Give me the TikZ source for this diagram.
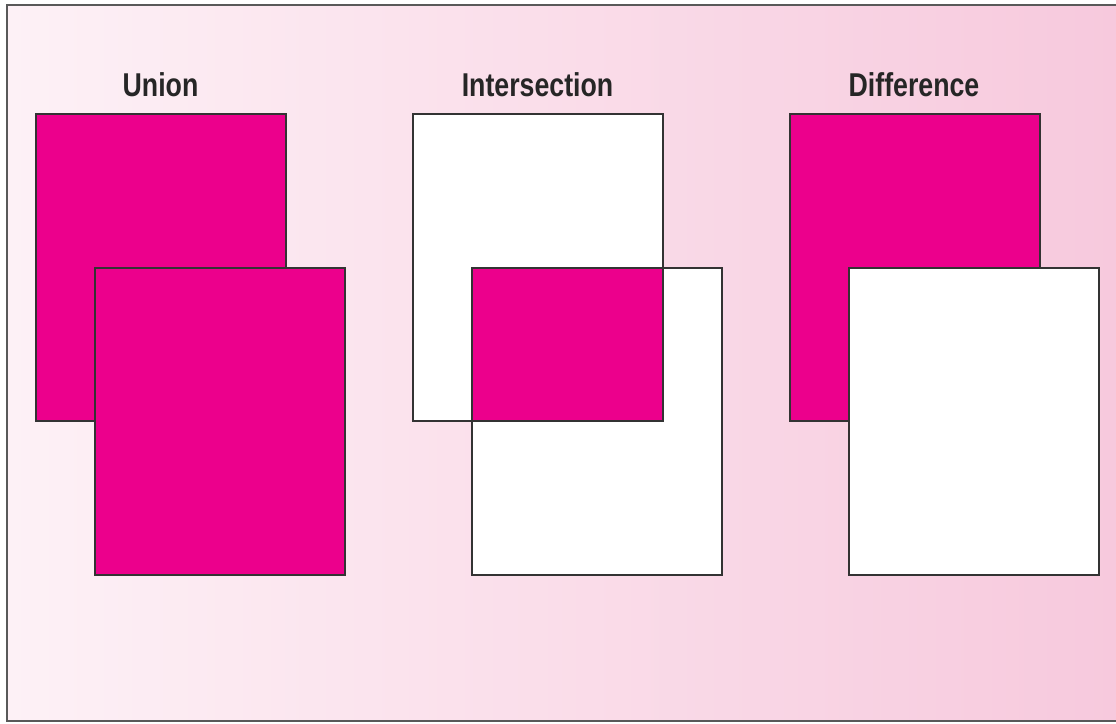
\documentclass[tikz,border=0pt]{standalone}
\usepackage{fontspec}
\newfontfamily\labelfont[FakeStretch=0.81]{Liberation Sans}
\usepackage{xcolor}
\usepackage{tikz}
\usetikzlibrary{positioning}

\definecolor{setmagenta}{HTML}{EC008C}
\definecolor{bgleft}{HTML}{FDF1F6}
\definecolor{bgright}{HTML}{F7C9DD}
\definecolor{edgegray}{HTML}{333333}

\begin{document}
\begin{tikzpicture}[x=1pt,y=-1pt,
    setbox/.style={draw=edgegray,line width=1.3pt},
    title/.style={font=\labelfont\bfseries\fontsize{33}{33}\selectfont,text=black!85,anchor=base}]
    \useasboundingbox (0,0) rectangle (1116,723);
    \shade[left color=bgleft,right color=bgright] (7,5) rectangle (1116,721);
    \draw[line width=2pt,black!65] (1116,5) -- (7,5) -- (7,721) -- (1116,721);
    % union
    \node[title] (union) at (160.5,96) {Union};
    \draw[setbox,fill=setmagenta] (36,114) rectangle (286,421);
    \draw[setbox,fill=setmagenta] (95,268) rectangle (345,575);
    % intersection
    \node[title] (inter) at (537.5,96) {Intersection};
    \draw[setbox,fill=white] (413,114) rectangle (663,421);
    \draw[setbox,fill=white] (472,268) rectangle (722,575);
    \draw[setbox,fill=setmagenta] (472,268) rectangle (663,421);
    % difference
    \node[title] (diff) at (914,96) {Difference};
    \draw[setbox,fill=setmagenta] (790,114) rectangle (1040,421);
    \draw[setbox,fill=white] (849,268) rectangle (1099,575);
\end{tikzpicture}
\end{document}
